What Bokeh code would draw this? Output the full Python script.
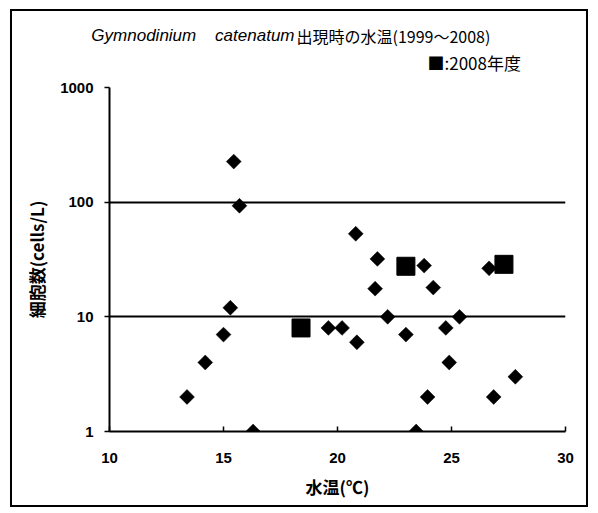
import numpy as np
from bokeh.plotting import figure
from bokeh.models import Range1d, FixedTicker, NumeralTickFormatter, Label
from bokeh.embed import file_html
from bokeh.resources import INLINE

# All-years occurrences (diamonds)
temp_all = [13.4, 14.2, 15.0, 15.3, 15.45, 15.7, 16.3, 19.6, 20.2, 20.85, 20.8, 21.75,
            21.65, 22.2, 23.0, 23.8, 23.45, 23.95, 24.2, 24.75, 24.9, 25.35, 26.65, 26.85, 27.8]
cells_all = [2, 4, 7, 12, 226, 93, 1, 8, 8, 6, 53, 32,
             17.6, 10, 7, 28, 1, 2, 18, 8, 4, 10, 26.5, 2, 3]
# 2008 occurrences (squares)
temp_2008 = [18.4, 23.0, 27.3]
cells_2008 = [8, 27.6, 28.7]

x_ticks = [10, 15, 20, 25, 30]
y_ticks = [1, 10, 100, 1000]

CJK = "Noto Sans CJK JP"
LAT = "Liberation Sans"

p = figure(width=578, height=498, output_backend="svg", toolbar_location=None,
           y_axis_type="log", x_range=Range1d(10, 30), y_range=Range1d(1, 1000),
           min_border_left=97, min_border_right=25, min_border_top=76, min_border_bottom=78)
p.styles = {"border": "2px solid black", "margin-left": "10px", "margin-top": "9px"}
p.outline_line_color = None
p.background_fill_color = "white"
p.border_fill_color = "white"

p.xgrid.visible = False
p.ygrid.ticker = FixedTicker(ticks=y_ticks)
p.ygrid.grid_line_color = "black"
p.ygrid.grid_line_width = 2

p.xaxis.ticker = FixedTicker(ticks=x_ticks)
p.yaxis.ticker = FixedTicker(ticks=y_ticks, minor_ticks=[])
p.yaxis.formatter = NumeralTickFormatter(format="0")
for ax in (p.xaxis, p.yaxis):
    ax.axis_line_width = 2
    ax.axis_line_color = "black"
    ax.major_tick_line_color = "black"
    ax.major_tick_line_width = 1.5
    ax.minor_tick_line_color = None
    ax.major_label_text_font = LAT
    ax.major_label_text_font_style = "bold"
    ax.major_label_text_font_size = "15px"
    ax.major_label_text_color = "black"
    ax.axis_label_text_font = CJK
    ax.axis_label_text_font_style = "bold"
    ax.axis_label_text_font_size = "17px"
    ax.axis_label_text_color = "black"

p.xaxis.major_tick_in = 5
p.xaxis.major_tick_out = 0
p.xaxis.major_label_standoff = 21
p.xaxis.axis_label = "水温(℃)"
p.xaxis.axis_label_standoff = 8

p.yaxis.major_tick_in = 0
p.yaxis.major_tick_out = 5
p.yaxis.major_label_standoff = 11
p.yaxis.axis_label = "細胞数(cells/L)"
p.yaxis.axis_label_standoff = 8

p.scatter(temp_all, cells_all, marker="square", angle=np.pi / 4, size=10.5,
          fill_color="black", line_color="black", line_width=0.5)
p.scatter(temp_2008, cells_2008, marker="square", size=18,
          fill_color="black", line_color="black")


def txt(text, x, y, font, size, align="left", style="normal"):
    return Label(x=x, y=y, x_units="canvas", y_units="canvas", text=text,
                 text_font=font, text_font_size=size, text_font_style=style,
                 text_align=align, text_baseline="middle", text_color="black")


p.add_layout(txt("Gymnodinium \u00a0\u00a0 catenatum", 280, 22, LAT, "17px", "right", "italic"), "above")
p.add_layout(txt("出現時の水温(1999～2008)", 282, 22, CJK, "16px"), "above")
p.add_layout(txt("■:2008年度", 413, 49, CJK, "17px"), "above")

open("out.html", "w").write(file_html(p, INLINE))
